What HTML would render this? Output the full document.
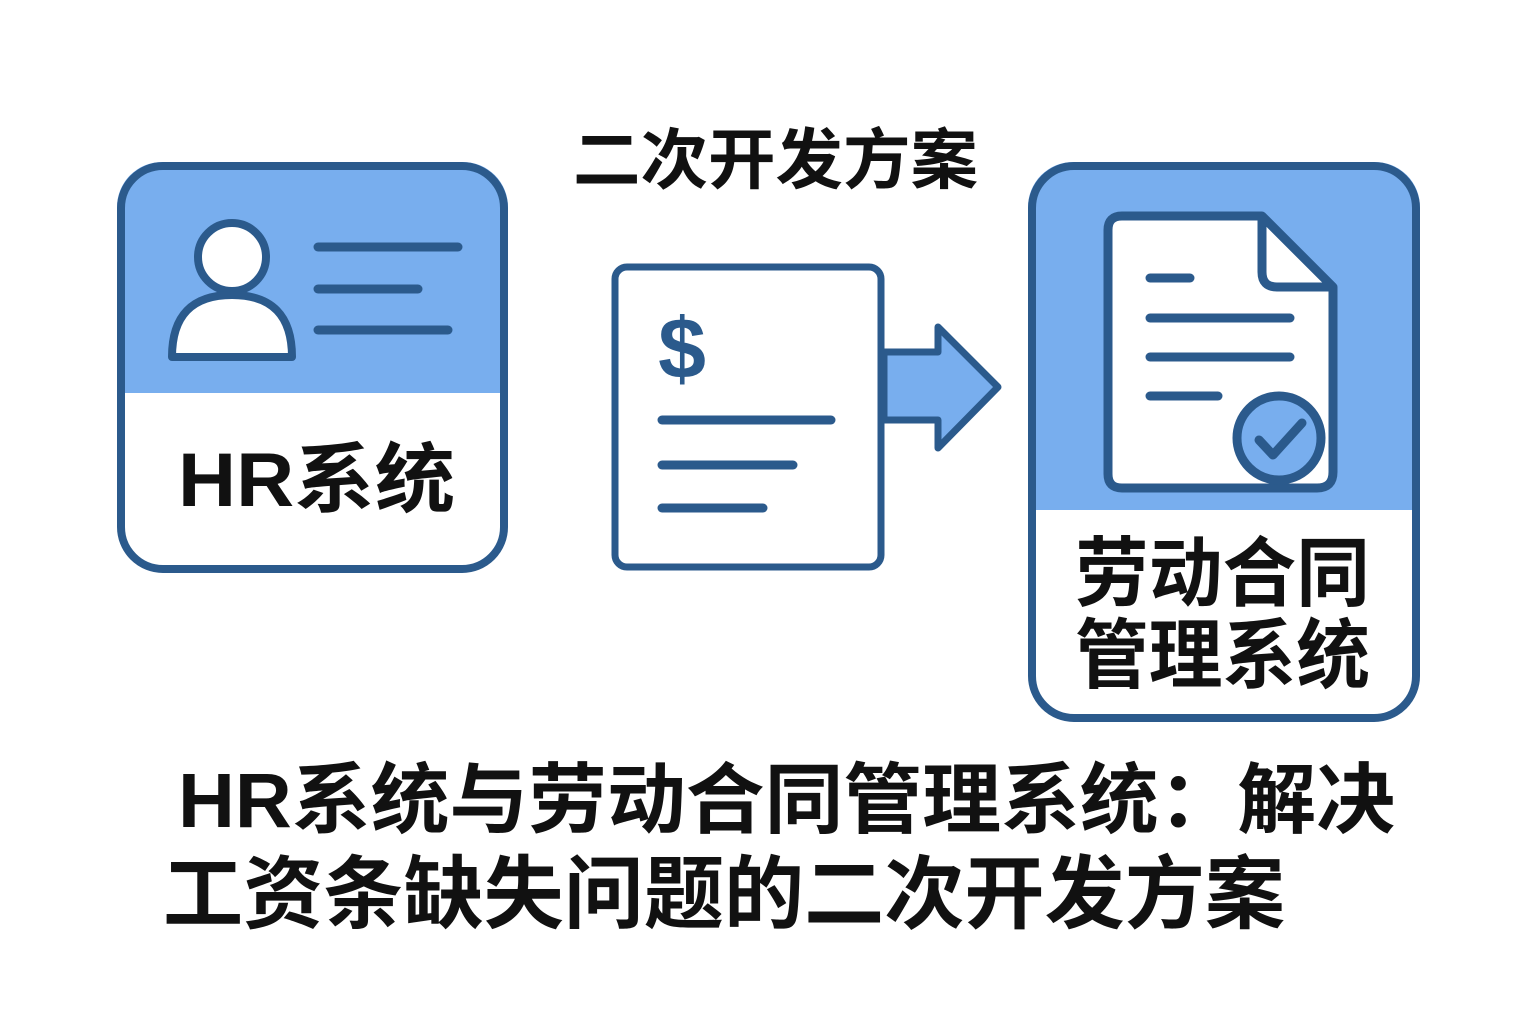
<!DOCTYPE html>
<html><head><meta charset="utf-8"><style>
html,body{margin:0;padding:0;background:#fff;}
svg{display:block}
text{font-family:"Liberation Sans","Noto Sans CJK SC",sans-serif;font-weight:bold;fill:#111;}
</style></head><body>
<svg width="1536" height="1024" viewBox="0 0 1536 1024">
<defs>
<clipPath id="lc"><rect x="117" y="162" width="391" height="411" rx="45"/></clipPath>
<clipPath id="rc"><rect x="1028" y="162" width="392" height="560" rx="45"/></clipPath>
</defs>
<g clip-path="url(#lc)"><rect x="117" y="162" width="391" height="231" fill="#78aeee"/></g>
<rect x="121" y="166" width="383" height="403" rx="42" fill="none" stroke="#2b5a8c" stroke-width="8"/>
<circle cx="232" cy="257" r="34" fill="#fff" stroke="#2b5a8c" stroke-width="8"/>
<path d="M172 357 Q172 295 232 295 Q292 295 292 357 Z" fill="#fff" stroke="#2b5a8c" stroke-width="8" stroke-linejoin="round"/>
<g stroke="#2b5a8c" stroke-width="9" stroke-linecap="round">
<line x1="318" y1="247" x2="458" y2="247"/><line x1="318" y1="289" x2="418" y2="289"/><line x1="318" y1="330" x2="448" y2="330"/>
</g>
<text x="178" y="506" font-size="76" textLength="277" lengthAdjust="spacingAndGlyphs">HR系统</text>
<text x="573" y="183" font-size="66" textLength="405" lengthAdjust="spacingAndGlyphs">二次开发方案</text>
<rect x="615" y="267" width="266" height="300" rx="12" fill="#fff" stroke="#2b5a8c" stroke-width="7"/>
<text x="682" y="378" font-size="86" text-anchor="middle" style="fill:#2b5a8c;font-weight:bold">$</text>
<g stroke="#2b5a8c" stroke-width="9" stroke-linecap="round">
<line x1="662" y1="420" x2="831" y2="420"/><line x1="662" y1="465" x2="793" y2="465"/><line x1="662" y1="508" x2="763" y2="508"/>
</g>
<path d="M884 352 L938 352 L938 327 L998 387 L938 448 L938 420 L884 420 Z" fill="#78aeee" stroke="#2b5a8c" stroke-width="7" stroke-linejoin="round"/>
<g clip-path="url(#rc)"><rect x="1028" y="162" width="392" height="348" fill="#78aeee"/></g>
<rect x="1032" y="166" width="384" height="552" rx="42" fill="none" stroke="#2b5a8c" stroke-width="8"/>
<path d="M1122 216 L1262 216 L1333 287 L1333 472 Q1333 488 1317 488 L1122 488 Q1108 488 1108 474 L1108 230 Q1108 216 1122 216 Z" fill="#fff" stroke="#2b5a8c" stroke-width="9" stroke-linejoin="round"/>
<path d="M1262 216 L1262 272 Q1262 287 1277 287 L1333 287" fill="none" stroke="#2b5a8c" stroke-width="9" stroke-linejoin="round"/>
<g stroke="#2b5a8c" stroke-width="9" stroke-linecap="round">
<line x1="1150" y1="278" x2="1190" y2="278"/><line x1="1150" y1="318" x2="1290" y2="318"/><line x1="1150" y1="357" x2="1290" y2="357"/><line x1="1150" y1="396" x2="1218" y2="396"/>
</g>
<circle cx="1279" cy="438" r="42" fill="#78aeee" stroke="#2b5a8c" stroke-width="9"/>
<path d="M1259 440 L1273 455 L1302 423" fill="none" stroke="#2b5a8c" stroke-width="9" stroke-linecap="round" stroke-linejoin="round"/>
<text x="1075" y="600" font-size="76" textLength="295" lengthAdjust="spacingAndGlyphs">劳动合同</text>
<text x="1075" y="682" font-size="76" textLength="295" lengthAdjust="spacingAndGlyphs">管理系统</text>
<text x="178" y="827" font-size="77" textLength="1217" lengthAdjust="spacingAndGlyphs">HR系统与劳动合同管理系统：解决</text>
<text x="163" y="922" font-size="80" textLength="1122" lengthAdjust="spacingAndGlyphs">工资条缺失问题的二次开发方案</text>
</svg>
</body></html>
